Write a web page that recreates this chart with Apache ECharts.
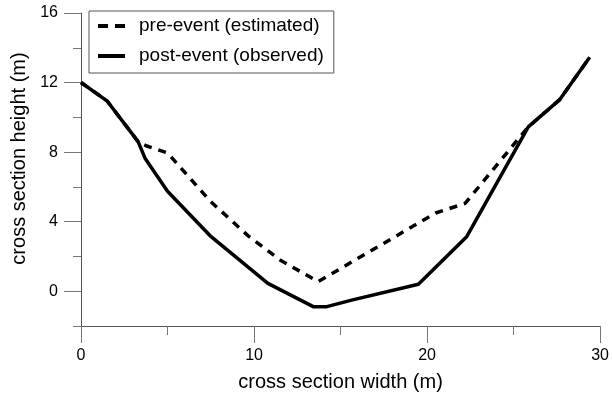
<!DOCTYPE html>
<html><head><meta charset="utf-8">
<script src="https://cdn.jsdelivr.net/npm/echarts@6/dist/echarts.min.js"></script>
<style>html,body{margin:0;padding:0;background:#fff}#c{width:612px;height:400px}</style>
</head><body><div id="c"></div>
<script>
// Data (cross section width m, height m)
const preX  = [0, 1.5, 3.3, 3.8, 5.0, 7.5, 9.7, 11.5, 13.7, 20.5, 22.2, 25.85, 27.65, 29.4];
const preY  = [12.0, 10.95, 8.6, 8.35, 7.95, 5.15, 3.15, 1.8, 0.55, 4.5, 5.05, 9.45, 11.0, 13.45];
const postX = [0, 1.5, 3.3, 3.7, 5.0, 7.45, 10.8, 13.45, 14.15, 15.7, 19.5, 22.3, 25.85, 27.65, 29.4];
const postY = [12.0, 10.95, 8.6, 7.65, 5.75, 3.2, 0.45, -0.9, -0.9, -0.5, 0.4, 3.15, 9.45, 11.0, 13.45];
const xTicks = [0, 10, 20, 30];
const xMinorTicks = [5, 15, 25];
const yTicks = [0, 4, 8, 12, 16];
const yMinorTicks = [-2, 2, 6, 10, 14];
const seriesNames = ['pre-event (estimated)', 'post-event (observed)'];

const pair = (xs, ys) => xs.map((x, i) => [x, ys[i]]);
const axisGrey = '#555';
const tickGrey = '#777';
const font = 'Liberation Sans, Arial, sans-serif';
// nudge the last tick just inside the extent so it is drawn
const xTickPos = xTicks.map((v, i) => i === xTicks.length - 1 ? v - 0.001 : v);

const chart = echarts.init(document.getElementById('c'), null, {renderer: 'canvas'});
chart.setOption({
  animation: false,
  backgroundColor: '#fff',
  grid: {left: 81, right: 10, top: 13, bottom: 74, containLabel: false},
  legend: {
    orient: 'vertical', left: 89, top: 11,
    padding: [5, 10, 7, 9],
    borderColor: '#555', borderWidth: 1,
    itemWidth: 27, itemHeight: 4, itemGap: 10,
    textStyle: {fontFamily: font, fontSize: 19, color: '#000', lineHeight: 20, padding: [0, 0, 0, 9]},
    data: [
      {name: seriesNames[0], icon: 'path://M0,0h10v4h-10zM17,0h10v4h-10z'},
      {name: seriesNames[1], icon: 'path://M0,0h27v4h-27z'}
    ]
  },
  xAxis: [{
    type: 'value', min: 0, max: 30,
    axisLine: {show: true, onZero: false, lineStyle: {color: axisGrey, width: 1}},
    axisTick: {show: true, inside: false, length: 17, lineStyle: {color: tickGrey}, customValues: xTickPos},
    splitLine: {show: false},
    axisLabel: {margin: 22, fontFamily: font, fontSize: 16, color: '#000', customValues: xTicks},
    name: 'cross section width (m)', nameLocation: 'middle', nameGap: 46,
    nameTextStyle: {fontFamily: font, fontSize: 20, color: '#000'}
  }, {
    type: 'value', min: 0, max: 30, position: 'bottom', offset: 0,
    axisLine: {show: false, onZero: false},
    axisTick: {show: true, inside: false, length: 9, lineStyle: {color: tickGrey}, customValues: xMinorTicks},
    axisLabel: {show: false},
    splitLine: {show: false}
  }],
  yAxis: [{
    type: 'value', min: -2, max: 16,
    axisLine: {show: true, onZero: false, lineStyle: {color: axisGrey, width: 1}},
    axisTick: {show: true, inside: false, length: 17, lineStyle: {color: tickGrey}, customValues: yTicks},
    splitLine: {show: false},
    axisLabel: {margin: 23, fontFamily: font, fontSize: 16, color: '#000', customValues: yTicks},
    name: 'cross section height (m)', nameLocation: 'middle', nameGap: 47,
    nameTextStyle: {fontFamily: font, fontSize: 20, color: '#000', padding: [0, 0, 0, 22]}
  }, {
    type: 'value', min: -2, max: 16, position: 'left', offset: 0,
    axisLine: {show: false, onZero: false},
    axisTick: {show: true, inside: false, length: 8, lineStyle: {color: tickGrey}, customValues: yMinorTicks},
    axisLabel: {show: false},
    splitLine: {show: false}
  }],
  series: [{
    name: seriesNames[0], type: 'line', data: pair(preX, preY),
    symbol: 'none', z: 2,
    lineStyle: {color: '#000', width: 3.5, type: [8, 7], cap: 'butt', join: 'round'},
    itemStyle: {color: '#000'}
  }, {
    name: seriesNames[1], type: 'line', data: pair(postX, postY),
    symbol: 'none', z: 3,
    lineStyle: {color: '#000', width: 3.5, type: 'solid', join: 'round'},
    itemStyle: {color: '#000'}
  }]
});
</script></body></html>
